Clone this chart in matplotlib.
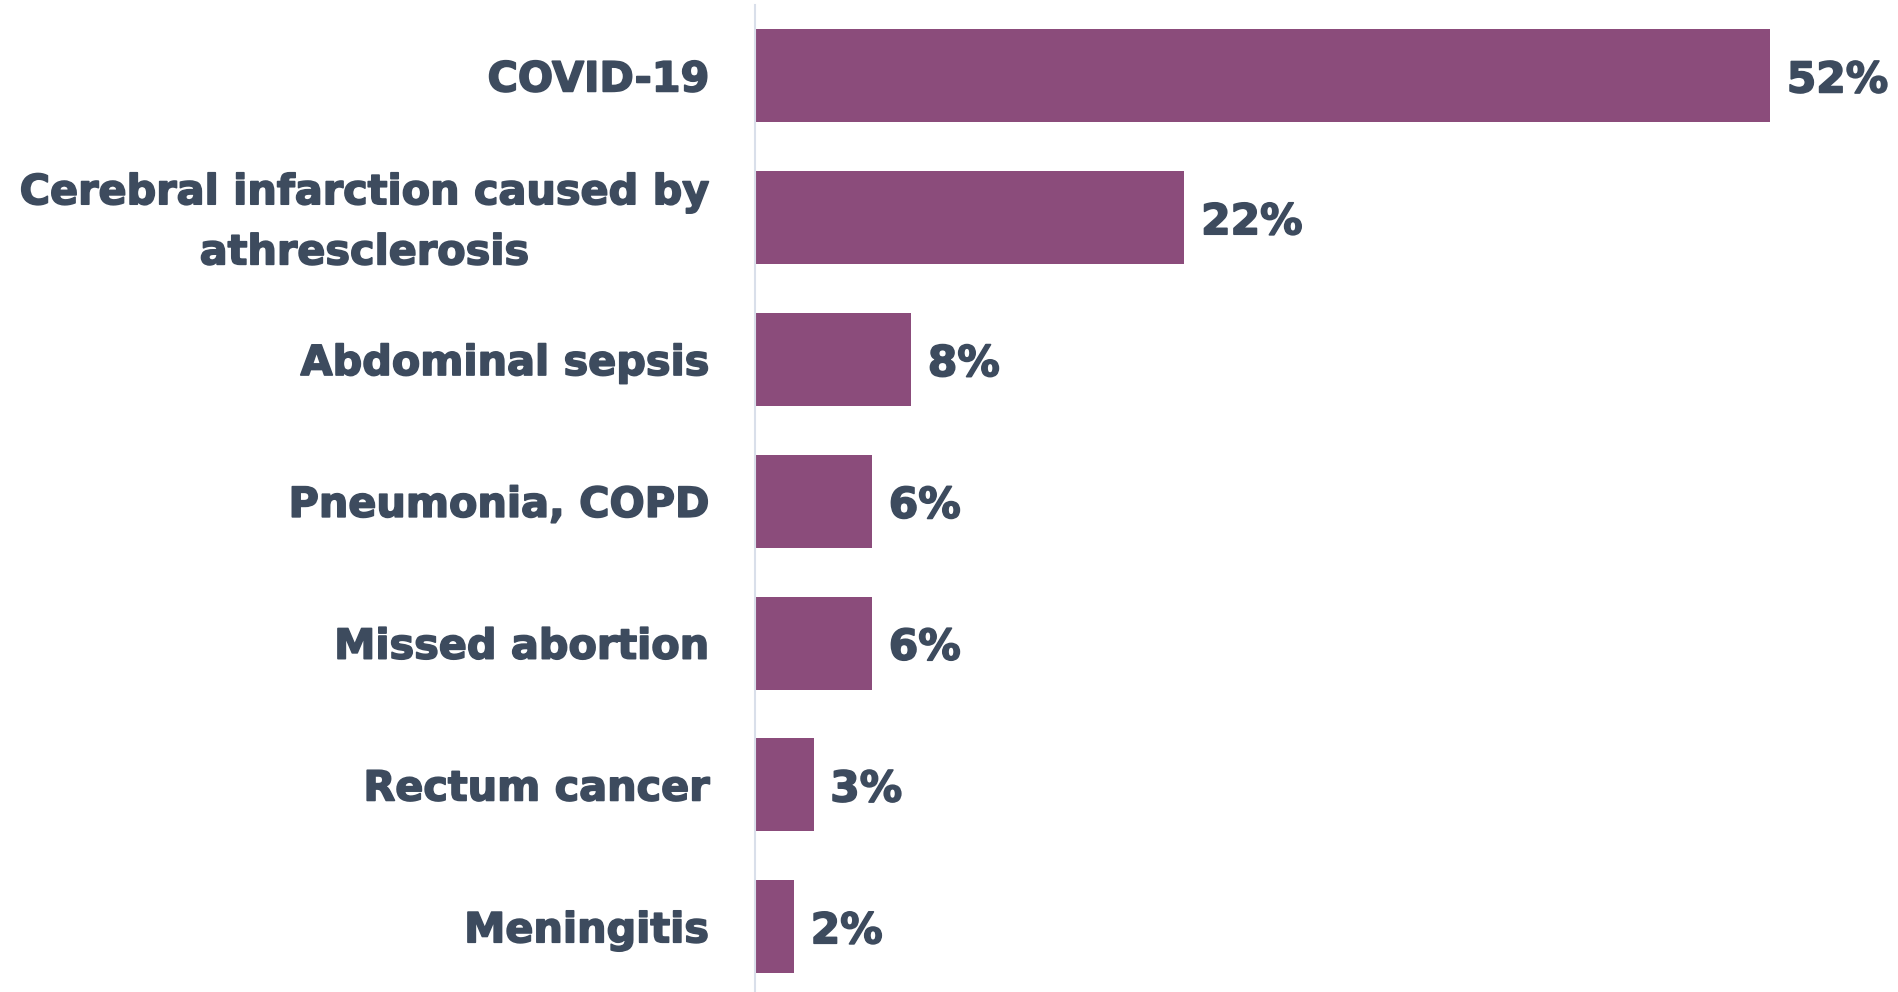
import matplotlib.pyplot as plt
import matplotlib.patheffects as pe
import matplotlib.transforms as mtransforms

plt.rcParams["font.family"] = ["DejaVu Sans"]

TEXT_COLOR = "#3d4b5e"
BAR_COLOR = "#8b4c7b"

causes = [
    "COVID-19",
    "Cerebral infarction caused by\nathresclerosis",
    "Abdominal sepsis",
    "Pneumonia, COPD",
    "Missed abortion",
    "Rectum cancer",
    "Meningitis",
]
shares = [52, 22, 8, 6, 6, 3, 2]

# slightly heavier lettering than plain bold
HEAVY = [pe.withStroke(linewidth=1.2, foreground=TEXT_COLOR)]


def main():
    fig = plt.figure(figsize=(18.98, 9.92), dpi=100)
    ax = fig.add_axes([755 / 1898, 0.0, 1 - 755 / 1898, 987 / 992])

    ypos = list(range(len(causes)))
    bars = ax.barh(ypos, shares, height=0.656, color=BAR_COLOR)

    ax.set_xlim(0, 58.55)
    ax.set_ylim(6.46, -0.5)

    ax.set_yticks(ypos)
    ax.tick_params(axis="y", length=0, pad=33)
    ax.set_xticks([])
    ticklabels = ax.set_yticklabels(causes, fontsize=29.8, fontweight="bold",
                                    color=TEXT_COLOR, multialignment="center",
                                    linespacing=1.65, path_effects=HEAVY)
    # two-line label: centre the whole block on the bar, nudged down a bit
    nudge = mtransforms.ScaledTranslation(0, -4 / 72, fig.dpi_scale_trans)
    for t in ticklabels:
        if "\n" in t.get_text():
            t.set_va("center")
            t.set_transform(t.get_transform() + nudge)

    for side in ["top", "right", "bottom"]:
        ax.spines[side].set_visible(False)
    ax.spines["left"].set_color("#d9dfea")
    ax.spines["left"].set_linewidth(1.5)

    value_texts = ax.bar_label(bars, labels=[f"{v}%" for v in shares],
                               padding=12, fontsize=30.5, fontweight="bold",
                               color=TEXT_COLOR, path_effects=HEAVY)
    for t in value_texts:
        t.set_va("center_baseline")

    fig.savefig("out.png", dpi=100, facecolor="white")


if __name__ == "__main__":
    main()
